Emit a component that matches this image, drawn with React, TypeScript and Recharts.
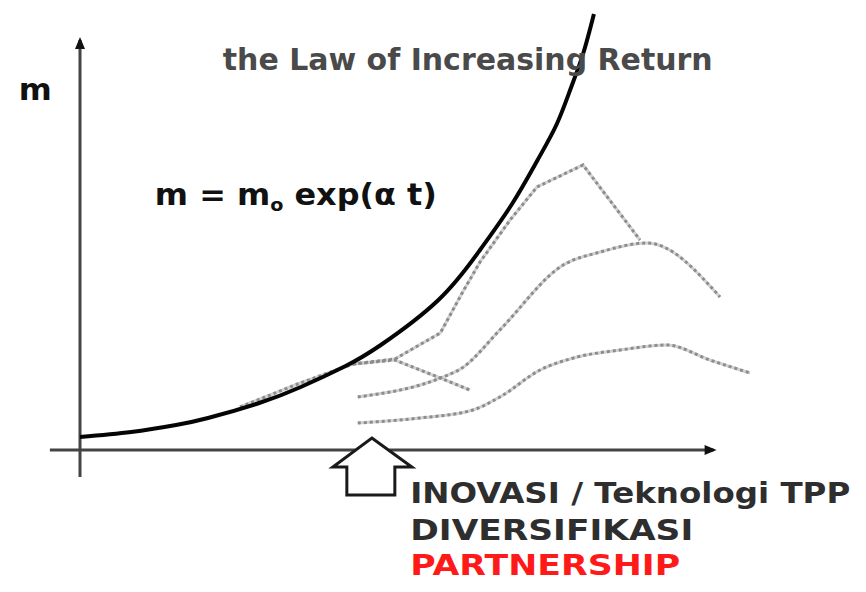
import React from 'react';
import { LineChart, Line, XAxis, YAxis, ReferenceLine, ReferenceDot } from 'recharts';

// exponential growth curve m = m0 exp(a t) (t: time units, m: value units)
const growthCurve = [
  { t: 0, m: 1.3 },
  { t: 0.8, m: 1.8 },
  { t: 1.5, m: 2.5 },
  { t: 2.0, m: 3.2 },
  { t: 2.8, m: 4.7 },
  { t: 3.45, m: 6.3 },
  { t: 4.15, m: 8.4 },
  { t: 4.7, m: 10.5 },
  { t: 5.6, m: 15.0 },
  { t: 6.25, m: 20.0 },
  { t: 6.75, m: 24.6 },
  { t: 7.15, m: 29.0 },
  { t: 7.45, m: 32.6 },
  { t: 7.67, m: 36.2 },
  { t: 7.86, m: 39.6 },
  { t: 8.03, m: 43.6 },
];

// grey dotted product life-cycle lines
const lineShort = [
  { t: 2.5, m: 4.3 },
  { t: 3.44, m: 6.7 },
  { t: 4.27, m: 8.6 },
  { t: 4.92, m: 9.0 },
  { t: 5.63, m: 7.2 },
  { t: 6.09, m: 6.0 },
];

const linePeak = [
  { t: 4.27, m: 8.6 },
  { t: 4.92, m: 9.1 },
  { t: 5.63, m: 11.7 },
  { t: 5.98, m: 15.8 },
  { t: 6.25, m: 18.8 },
  { t: 6.72, m: 23.0 },
  { t: 7.14, m: 26.3 },
  { t: 7.86, m: 28.5 },
  { t: 8.75, m: 21.0 },
];

const lineMiddle = [
  { t: 4.34, m: 5.3 },
  { t: 5.63, m: 7.2 },
  { t: 5.97, m: 8.2 },
  { t: 6.56, m: 12.0 },
  { t: 7.55, m: 18.5 },
  { t: 8.13, m: 19.8 },
  { t: 8.86, m: 20.7 },
  { t: 10.0, m: 15.3 },
];

const lineLow = [
  { t: 4.34, m: 2.7 },
  { t: 5.31, m: 3.2 },
  { t: 6.14, m: 4.0 },
  { t: 6.56, m: 5.3 },
  { t: 7.19, m: 8.0 },
  { t: 7.77, m: 9.3 },
  { t: 8.44, m: 10.0 },
  { t: 9.17, m: 10.5 },
  { t: 9.84, m: 9.0 },
  { t: 10.47, m: 7.7 },
];

const greyLines: { data: { t: number; m: number }[]; curve: 'linear' | 'monotone' }[] = [
  { data: lineShort, curve: 'linear' },
  { data: linePeak, curve: 'linear' },
  { data: lineMiddle, curve: 'monotone' },
  { data: lineLow, curve: 'monotone' },
];

const titleText = 'the Law of Increasing Return';
const axisLabel = 'm';
const formulaHead = 'm = m';
const formulaSub = 'o';
const formulaTail = ' exp(\u03B1 t)';
const noteLines = ['INOVASI / Teknologi TPP', 'DIVERSIFIKASI', 'PARTNERSHIP'];

const FONT = '"DejaVu Sans", Verdana, sans-serif';

const textShape =
  (content: React.ReactNode, opts: { size: number; fill: string; len?: number; anchor?: string; weight?: string }) =>
  (props: any) => (
    <text
      x={props.cx}
      y={props.cy}
      fontFamily={FONT}
      fontSize={opts.size}
      fontWeight={opts.weight ?? 'bold'}
      fill={opts.fill}
      textAnchor={opts.anchor ?? 'start'}
      textLength={opts.len}
      lengthAdjust={opts.len ? 'spacingAndGlyphs' : undefined}
    >
      {content}
    </text>
  );

const arrowRight = (props: any) => (
  <polygon
    points={`${props.cx + 3},${props.cy} ${props.cx - 9},${props.cy - 5} ${props.cx - 9},${props.cy + 5}`}
    fill="#111"
  />
);

const arrowUp = (props: any) => (
  <polygon
    points={`${props.cx},${props.cy - 3} ${props.cx - 5},${props.cy + 9} ${props.cx + 5},${props.cy + 9}`}
    fill="#111"
  />
);

const hollowArrow = (props: any) => {
  const { cx, cy } = props;
  const pts = [
    [0, 0],
    [40, 29],
    [23, 29],
    [23, 57],
    [-25, 57],
    [-25, 29],
    [-39, 29],
  ]
    .map(([dx, dy]) => `${cx + dx},${cy + dy}`)
    .join(' ');
  return <polygon points={pts} fill="#fff" stroke="#1a1a1a" strokeWidth={3} strokeLinejoin="miter" />;
};

export default function App() {
  return (
    <div style={{ position: 'absolute', left: 0, top: 0, width: 866, height: 592, background: '#fff' }}>
      <LineChart width={866} height={592} margin={{ top: 0, right: 66, bottom: 102, left: 48 }}>
        <XAxis type="number" dataKey="t" domain={[-0.5, 11.25]} hide allowDataOverflow />
        <YAxis type="number" dataKey="m" domain={[-4, 45]} hide allowDataOverflow />

        <ReferenceLine
          segment={[{ x: -0.47, y: 0 }, { x: 4.3, y: 0 }]}
          stroke="#444"
          strokeWidth={3}
          ifOverflow="visible"
        />
        <ReferenceLine
          segment={[{ x: 4.83, y: 0 }, { x: 9.9, y: 0 }]}
          stroke="#444"
          strokeWidth={3}
          ifOverflow="visible"
        />
        <ReferenceLine
          segment={[{ x: 0, y: -2.7 }, { x: 0, y: 41.0 }]}
          stroke="#444"
          strokeWidth={3}
          ifOverflow="visible"
        />

        {greyLines.map((g, i) => (
          <Line
            key={`bg${i}`}
            data={g.data}
            dataKey="m"
            type={g.curve}
            stroke="#d2d2d2"
            strokeWidth={3}
            dot={false}
            activeDot={false}
            isAnimationActive={false}
          />
        ))}
        {greyLines.map((g, i) => (
          <Line
            key={`fg${i}`}
            data={g.data}
            dataKey="m"
            type={g.curve}
            stroke="#8c8c8c"
            strokeWidth={3}
            strokeDasharray="3 3"
            dot={false}
            activeDot={false}
            isAnimationActive={false}
          />
        ))}

        <Line
          data={growthCurve}
          dataKey="m"
          type="natural"
          stroke="#050505"
          strokeWidth={4}
          dot={false}
          activeDot={false}
          isAnimationActive={false}
        />

        <ReferenceDot x={9.9} y={0} ifOverflow="visible" shape={arrowRight} />
        <ReferenceDot x={0} y={41.0} ifOverflow="visible" shape={arrowUp} />
        <ReferenceDot x={4.56} y={1.2} ifOverflow="visible" shape={hollowArrow} />

        <ReferenceDot
          x={-0.7}
          y={35}
          ifOverflow="visible"
          shape={textShape(axisLabel, { size: 30, fill: '#111', anchor: 'middle', len: 33 })}
        />
        <ReferenceDot
          x={2.23}
          y={38}
          ifOverflow="visible"
          shape={textShape(titleText, { size: 30, fill: '#4a4a4a', len: 490 })}
        />
        <ReferenceDot
          x={1.17}
          y={24.5}
          ifOverflow="visible"
          shape={textShape(
            <>
              {formulaHead}
              <tspan fontSize={18} dy={6}>
                {formulaSub}
              </tspan>
              <tspan dy={-6}>{formulaTail}</tspan>
            </>,
            { size: 30, fill: '#111', len: 282 }
          )}
        />
        <ReferenceDot
          x={5.16}
          y={-5.3}
          ifOverflow="visible"
          shape={textShape(noteLines[0], { size: 29, fill: '#2e2e2e', len: 440 })}
        />
        <ReferenceDot
          x={5.16}
          y={-9.0}
          ifOverflow="visible"
          shape={textShape(noteLines[1], { size: 29, fill: '#2e2e2e', len: 283 })}
        />
        <ReferenceDot
          x={5.16}
          y={-12.5}
          ifOverflow="visible"
          shape={textShape(noteLines[2], { size: 29, fill: '#ff1a1a', len: 270 })}
        />
      </LineChart>
    </div>
  );
}
